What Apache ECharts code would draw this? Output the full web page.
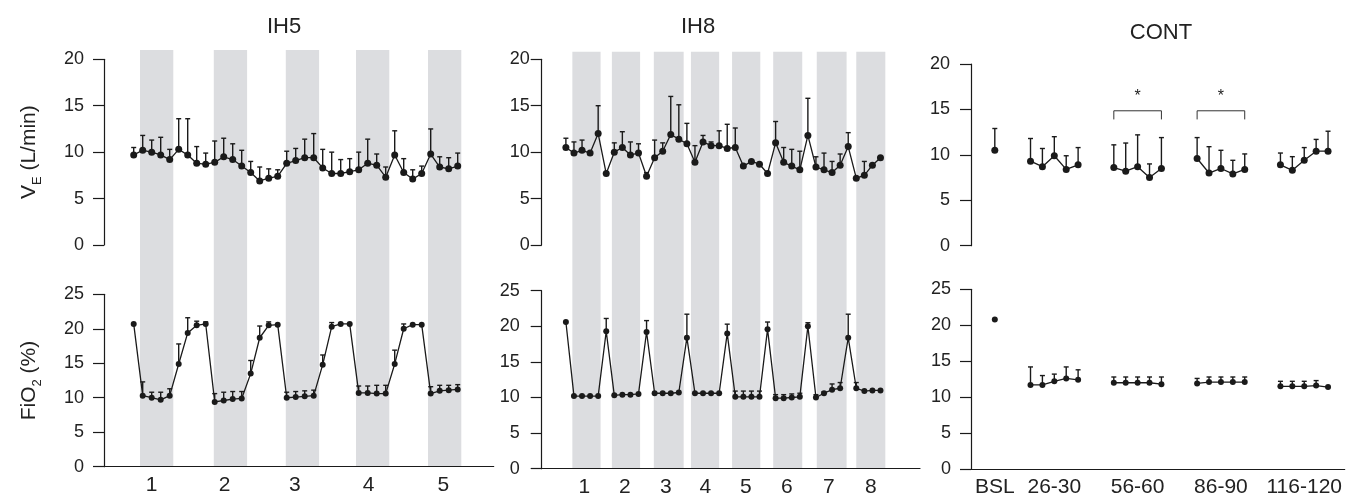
<!DOCTYPE html>
<html>
<head>
<meta charset="utf-8">
<script src="https://cdn.jsdelivr.net/npm/echarts@6/dist/echarts.min.js"></script>
<style>
  html, body { margin: 0; padding: 0; background: #fff; }
  #main { width: 1347px; height: 498px; }
</style>
</head>
<body>
<div id="main"></div>
<script>
// ---- data (mean and SD) ----
var ih5Ve     = [9.7,10.2,10.0,9.7,9.2,10.3,9.7,8.8,8.7,8.9,9.5,9.2,8.5,7.8,6.9,7.2,7.4,8.8,9.1,9.4,9.4,8.3,7.7,7.7,7.9,8.1,8.8,8.6,7.3,9.7,7.8,7.1,7.7,9.8,8.4,8.2,8.5];
var ih5VeSd   = [0.8,1.6,1.3,1.9,1.1,3.3,3.9,1.8,1.2,2.3,2.0,1.7,1.7,1.2,1.5,1.0,0.7,1.3,1.3,2.0,2.6,2.0,2.3,1.5,1.4,1.9,2.6,1.2,1.1,2.6,1.5,1.0,0.8,2.7,1.1,1.2,1.4];
var ih5Fio2   = [20.7,10.3,10.0,9.7,10.3,14.9,19.4,20.5,20.7,9.4,9.6,9.8,9.9,13.5,18.7,20.5,20.6,10.0,10.1,10.2,10.3,14.8,20.3,20.7,20.7,10.7,10.7,10.6,10.6,14.9,20.0,20.6,20.6,10.6,11.0,11.1,11.2];
var ih5Fio2Sd = [0,2.0,0.8,1.1,1.0,2.9,2.2,0.6,0.3,1.2,1.2,1.1,1.0,1.9,1.7,0.5,0,0.8,0.8,0.8,0.8,1.4,0.6,0,0,1.0,1.0,1.2,1.2,2.0,0.7,0,0,1.0,0.8,0.7,0.7];
var ih5Bands  = [[0.7,4.4],[8.9,12.6],[16.9,20.6],[24.7,28.4],[32.7,36.4]];
var ih5Ticks  = ['1','2','3','4','5'];
var ih5TickAt = [2.0,10.1,17.9,26.1,34.4];

var ih8Ve     = [10.5,9.9,10.2,9.9,12.0,7.7,10.0,10.5,9.7,9.9,7.4,9.4,10.1,11.9,11.4,10.9,8.9,11.1,10.7,10.7,10.4,10.5,8.5,9.0,8.7,7.7,11.0,8.9,8.5,8.1,11.8,8.4,8.1,7.8,8.6,10.6,7.2,7.5,8.6,9.4];
var ih8VeSd   = [1.0,1.2,1.1,0,3.0,0,1.0,1.7,1.4,1.0,0.4,1.9,0.9,4.1,3.7,2.2,1.8,0.7,0.4,1.6,2.6,2.1,0,0,0,0,2.3,1.6,1.8,2.0,4.0,1.1,1.8,1.2,1.2,1.5,0,1.5,0,0];
var ih8Fio2   = [20.6,10.2,10.2,10.2,10.2,19.3,10.3,10.4,10.4,10.5,19.2,10.6,10.6,10.6,10.7,18.4,10.6,10.6,10.6,10.6,19.0,10.1,10.1,10.1,10.1,19.6,9.9,9.9,10.0,10.1,20.0,10.0,10.6,11.1,11.3,18.4,11.3,10.9,11.0,11.0];
var ih8Fio2Sd = [0,0,0,0,0,1.8,0,0,0,0,1.6,0,0,0,0,3.3,0,0,0,0,1.3,0.8,0.8,0.8,0.8,1.0,0.5,0.5,0.5,0.5,0.5,0.4,0.2,0.8,0.8,3.3,0.8,0,0,0];
var ih8Bands  = [[0.8,4.3],[5.7,9.2],[10.9,14.6],[15.5,19.0],[20.6,24.1],[25.7,29.3],[31.1,34.8],[36.0,39.6]];
var ih8Ticks  = ['1','2','3','4','5','6','7','8'];
var ih8TickAt = [2.3,7.3,12.4,17.3,22.3,27.4,32.6,37.8];

var contTicks  = ['BSL','26-30','56-60','86-90','116-120'];
var contTickAt = [0,5,12,19,26];
var contX      = [[0],[3,4,5,6,7],[10,11,12,13,14],[17,18,19,20,21],[24,25,26,27,28]];
var contVe     = [[10.5],[9.3,8.7,9.9,8.4,8.9],[8.6,8.2,8.7,7.5,8.5],[9.6,8.0,8.5,7.9,8.4],[8.9,8.3,9.4,10.4,10.4]];
var contVeSd   = [[2.4],[2.5,2.0,2.1,1.5,1.9],[2.5,3.1,3.5,1.5,3.4],[2.3,2.9,2.0,1.5,1.7],[1.3,1.5,1.4,1.3,2.2]];
var contFio2   = [[20.8],[11.7,11.7,12.2,12.6,12.4],[12.0,12.0,12.0,12.0,11.8],[11.9,12.1,12.1,12.1,12.1],[11.5,11.5,11.5,11.6,11.4]];
var contFio2Sd = [[0],[2.5,1.3,1.0,1.6,1.4],[0.8,0.8,0.8,0.8,1.0],[0.7,0.7,0.7,0.7,0.7],[0.7,0.7,0.7,0.7,0]];
var contSig    = [2, 3];   // groups marked with *

// ---- chart ----
var myChart = echarts.init(document.getElementById('main'), null, { renderer: 'canvas' });
var FONT = '"Liberation Sans", Arial, Helvetica, sans-serif';
var INK = '#1a1a1a';
var BAND = '#dcdde0';

var grids = [], xAxes = [], yAxes = [], series = [];

function errRender(params, api) {
    var x = api.value(0), m = api.value(1), t = api.value(2);
    if (!(t > m)) return null;
    var a = api.coord([x, m]), b = api.coord([x, t]);
    var st = { stroke: INK, lineWidth: 1.4 };
    return { type: 'group', children: [
        { type: 'line', shape: { x1: a[0], y1: a[1], x2: b[0], y2: b[1] }, style: st },
        { type: 'line', shape: { x1: b[0] - 2.5, y1: b[1], x2: b[0] + 2.5, y2: b[1] }, style: st }
    ] };
}

function bandRender(params, api) {
    var a = api.coord([api.value(0), 1]), b = api.coord([api.value(1), 0]);
    return { type: 'rect', shape: { x: a[0], y: a[1], width: b[0] - a[0], height: b[1] - a[1] }, style: { fill: BAND } };
}

function yAxisFor(g, max, margin, name) {
    var ax = {
        gridIndex: g, type: 'value', min: 0, max: max, interval: 5, z: 5,
        axisLine: { show: true, onZero: false, lineStyle: { color: INK, width: 1.2 } },
        axisTick: { show: true, inside: false, length: 11, lineStyle: { color: INK, width: 1.2 } },
        axisLabel: { fontSize: 18, color: '#222', fontFamily: FONT, margin: margin },
        splitLine: { show: false }
    };
    if (name) {
        ax.name = name;
        ax.nameLocation = 'middle';
        ax.nameRotate = 90;
        ax.nameGap = 60;
        ax.nameTextStyle = {
            fontFamily: FONT, color: '#222',
            rich: {
                n: { fontSize: 21, fontFamily: FONT, color: '#222', lineHeight: 30, verticalAlign: 'middle' },
                s: { fontSize: 13, fontFamily: FONT, color: '#222', lineHeight: 13, verticalAlign: 'bottom' }
            }
        };
    }
    return ax;
}

function xAxisFor(g, p, showLine) {
    var ax = { gridIndex: g, type: 'value', min: p.xMin, max: p.xMax, z: 5,
        splitLine: { show: false }, axisTick: { show: false } };
    if (!showLine) {
        ax.axisLine = { show: false };
        ax.axisLabel = { show: false };
    } else {
        ax.axisLine = { show: true, onZero: false, lineStyle: { color: INK, width: 1.2 } };
        ax.axisLabel = { customValues: p.tickAt, fontSize: 21, color: '#222', fontFamily: FONT, margin: 8,
            formatter: function (v) {
                for (var i = 0; i < p.tickAt.length; i++) if (Math.abs(p.tickAt[i] - v) < 1e-6) return p.ticks[i];
                return '';
            } };
    }
    return ax;
}

function addGrid(left, top, width, bottomY) {
    grids.push({ left: left, top: top, width: width, height: bottomY - top, containLabel: false });
    return grids.length - 1;
}

function lineSeries(g, xs, ys, size) {
    var d = xs.map(function (x, i) { return [x, ys[i]]; });
    return { type: 'line', xAxisIndex: g, yAxisIndex: g, data: d, symbol: 'circle', symbolSize: size,
        showSymbol: true, z: 4, silent: true,
        itemStyle: { color: INK }, lineStyle: { color: INK, width: 1.3 } };
}

function errSeries(g, xs, ys, sd) {
    var d = xs.map(function (x, i) { return [x, ys[i], +(ys[i] + sd[i]).toFixed(2)]; });
    return { type: 'custom', xAxisIndex: g, yAxisIndex: g, data: d, z: 3, silent: true,
        encode: { x: 0, y: [1, 2] }, renderItem: errRender };
}

function idx(n) { var a = []; for (var i = 0; i < n; i++) a.push(i); return a; }

var ihPanels = [
    { left: 104, width: 389.7, xMin: -3.3, xMax: 40, upTop: 59.3, upBot: 245, loTop: 294.3, loBot: 466.7, bandTop: 50,
      mUp: 20, mLo: 20, names: true,
      ve: ih5Ve, veSd: ih5VeSd, fi: ih5Fio2, fiSd: ih5Fio2Sd, bands: ih5Bands, ticks: ih5Ticks, tickAt: ih5TickAt },
    { left: 541.7, width: 378.3, xMin: -3, xMax: 43.9, upTop: 59.3, upBot: 245, loTop: 290.7, loBot: 468.7, bandTop: 51.7,
      mUp: 12, mLo: 22, names: false,
      ve: ih8Ve, veSd: ih8VeSd, fi: ih8Fio2, fiSd: ih8Fio2Sd, bands: ih8Bands, ticks: ih8Ticks, tickAt: ih8TickAt }
];

ihPanels.forEach(function (p) {
    // shaded hypoxia periods across both rows
    var gb = addGrid(p.left, p.bandTop, p.width, p.loBot);
    xAxes.push({ gridIndex: gb, type: 'value', min: p.xMin, max: p.xMax, show: false });
    yAxes.push({ gridIndex: gb, type: 'value', min: 0, max: 1, show: false });
    series.push({ type: 'custom', xAxisIndex: gb, yAxisIndex: gb, z: 1, silent: true,
        data: p.bands, encode: { x: [0, 1] }, renderItem: bandRender });

    var xs = idx(p.ve.length);
    var gu = addGrid(p.left, p.upTop, p.width, p.upBot);
    xAxes.push(xAxisFor(gu, p, false));
    yAxes.push(yAxisFor(gu, 20, p.mUp, p.names ? '{n|V}{s|E}{n| (L/min)}' : null));
    series.push(errSeries(gu, xs, p.ve, p.veSd));
    series.push(lineSeries(gu, xs, p.ve, 7));

    var gl = addGrid(p.left, p.loTop, p.width, p.loBot);
    xAxes.push(xAxisFor(gl, p, true));
    yAxes.push(yAxisFor(gl, 25, p.mLo, p.names ? '{n|FiO}{s|2}{n| (%)}' : null));
    series.push(errSeries(gl, xs, p.fi, p.fiSd));
    series.push(lineSeries(gl, xs, p.fi, 6));
});

// CONT panel
var cp = { xMin: -2, xMax: 29.4, ticks: contTicks, tickAt: contTickAt };
var cu = addGrid(971, 64, 373.7, 245.7);
xAxes.push(xAxisFor(cu, cp, false));
yAxes.push(yAxisFor(cu, 20, 21, null));
var cl = addGrid(971, 289.3, 373.7, 470);
xAxes.push(xAxisFor(cl, cp, true));
yAxes.push(yAxisFor(cl, 25, 20, null));
contX.forEach(function (xs, k) {
    series.push(errSeries(cu, xs, contVe[k], contVeSd[k]));
    series.push(lineSeries(cu, xs, contVe[k], 7));
    series.push(errSeries(cl, xs, contFio2[k], contFio2Sd[k]));
    series.push(lineSeries(cl, xs, contFio2[k], 6));
});
// significance brackets
series.push({ type: 'custom', xAxisIndex: cu, yAxisIndex: cu, z: 3, silent: true,
    data: contSig.map(function (k) { return [contX[k][0], contX[k][contX[k].length - 1]]; }),
    encode: { x: [0, 1] },
    renderItem: function (params, api) {
        var x0 = api.value(0), x1 = api.value(1);
        var a = api.coord([x0, 13.9]), b = api.coord([x0, 14.85]), c = api.coord([x1, 14.85]), d = api.coord([x1, 13.9]);
        var s = api.coord([(x0 + x1) / 2, 16.4]);
        return { type: 'group', children: [
            { type: 'polyline', shape: { points: [a, b, c, d] }, style: { stroke: '#333', lineWidth: 1, fill: null } },
            { type: 'text', style: { text: '*', x: s[0], y: s[1], align: 'center', verticalAlign: 'middle',
                font: '16px ' + FONT, fill: '#222' } }
        ] };
    } });

var titleStyle = { fontSize: 22, fontWeight: 'normal', color: '#222', fontFamily: FONT };
var option = {
    animation: false,
    backgroundColor: '#fff',
    title: [
        { text: 'IH5', left: 279, top: 11, textAlign: 'center', textStyle: titleStyle },
        { text: 'IH8', left: 693, top: 11, textAlign: 'center', textStyle: titleStyle },
        { text: 'CONT', left: 1156, top: 17, textAlign: 'center', textStyle: titleStyle }
    ],
    grid: grids,
    xAxis: xAxes,
    yAxis: yAxes,
    series: series
};
myChart.setOption(option);
</script>
</body>
</html>
